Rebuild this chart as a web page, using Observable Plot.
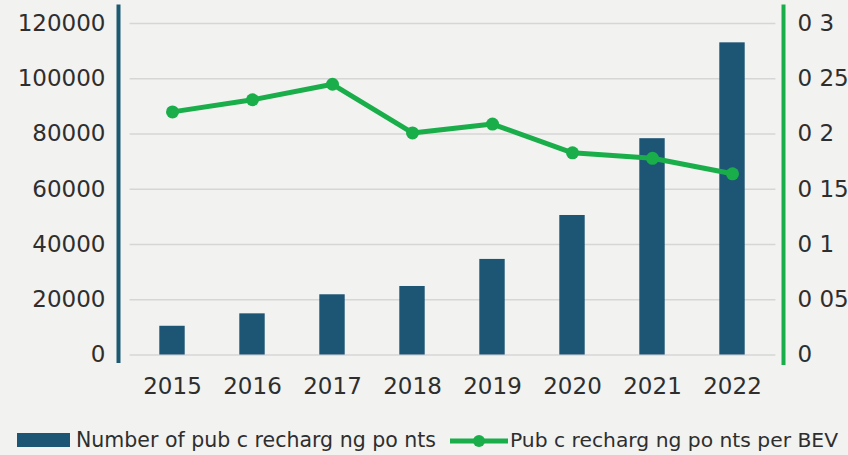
<!DOCTYPE html>
<html><head><meta charset="utf-8">
<script src="https://cdn.jsdelivr.net/npm/d3@7"></script>
<script src="https://cdn.jsdelivr.net/npm/@observablehq/plot@0.6"></script>
<style>
html,body{margin:0;padding:0;background:#f2f2f0;}
#wrap{position:relative;width:848px;height:455px;overflow:hidden;}
#chart{position:absolute;left:0;top:0;}
#legend{position:absolute;left:0;top:415px;}
</style></head><body>
<div id="wrap"><div id="chart"></div><svg id="legend" width="848" height="40"></svg></div>
<script>
const years = ["2015","2016","2017","2018","2019","2020","2021","2022"];
const chargingPoints = [10400, 14900, 21800, 24800, 34600, 50500, 78300, 113000];
const pointsPerBEV = [0.220, 0.231, 0.245, 0.201, 0.209, 0.183, 0.178, 0.164];
const leftTicks = [0, 20000, 40000, 60000, 80000, 100000, 120000];
const rightTicks = [0, 0.05, 0.1, 0.15, 0.2, 0.25, 0.3];
const rightTickLabels = ["0", "0 05", "0 1", "0 15", "0 2", "0 25", "0 3"];
const seriesNames = ["Number of pub c recharg ng po nts", "Pub c recharg ng po nts per BEV"];

const barColor = "#1d5574";
const lineColor = "#1aae4a";
const leftMax = 120000, rightMax = 0.3;
const ratio = leftMax / rightMax;

const bars = years.map((y, i) => ({year: y, value: chargingPoints[i]}));
const pts = years.map((y, i) => ({year: y, value: pointsPerBEV[i] * ratio}));
const rightLabel = d => rightTickLabels[rightTicks.findIndex(v => Math.abs(v * ratio - d) < 1e-6)];

const chart = Plot.plot({
  width: 848, height: 415,
  marginTop: 23, marginBottom: 60.5, marginLeft: 118, marginRight: 65,
  style: {background: "transparent", fontFamily: "DejaVu Sans", fontSize: "23px", color: "#2e2e2e"},
  x: {type: "band", domain: years, range: [129.6, 775.4], padding: 0, label: null},
  y: {domain: [0, leftMax], label: null},
  marks: [
    Plot.ruleY(leftTicks, {stroke: "#d6d6d6", strokeWidth: 1.5, insetLeft: 11.6, insetRight: 7.6}),
    Plot.barY(bars, {x: "year", y: "value", fill: barColor, insetLeft: 27.3, insetRight: 27.3}),
    Plot.line(pts, {x: "year", y: "value", stroke: lineColor, strokeWidth: 5}),
    Plot.dot(pts, {x: "year", y: "value", r: 6.5, fill: lineColor}),
    Plot.axisY(leftTicks, {anchor: "left", tickSize: 0, tickPadding: 13, tickFormat: d => String(d), label: null, fontSize: 23}),
    Plot.axisY(rightTicks.map(v => v * ratio), {anchor: "right", tickSize: 0, tickPadding: 14, tickFormat: rightLabel, label: null, fontSize: 23}),
    Plot.axisX({tickSize: 0, tickPadding: 23, label: null, fontSize: 23}),
    Plot.frame({anchor: "left", stroke: "#1c5a72", strokeWidth: 4, insetTop: -17, insetBottom: -6}),
    Plot.frame({anchor: "right", stroke: lineColor, strokeWidth: 4, insetTop: -17, insetBottom: -8})
  ]
});
document.getElementById("chart").appendChild(chart);

const lg = d3.select("#legend");
lg.append("rect").attr("x", 17).attr("y", 18).attr("width", 53).attr("height", 14).attr("fill", barColor);
lg.append("text").attr("x", 76).attr("y", 32).attr("font-family", "DejaVu Sans").attr("font-size", 21)
  .attr("textLength", 360).attr("lengthAdjust", "spacingAndGlyphs").attr("fill", "#2e2e2e").text(seriesNames[0]);
lg.append("line").attr("x1", 450).attr("x2", 508).attr("y1", 26).attr("y2", 26).attr("stroke", lineColor).attr("stroke-width", 5);
lg.append("circle").attr("cx", 479).attr("cy", 26).attr("r", 6).attr("fill", lineColor);
lg.append("text").attr("x", 510).attr("y", 32).attr("font-family", "DejaVu Sans").attr("font-size", 20)
  .attr("textLength", 328).attr("lengthAdjust", "spacingAndGlyphs").attr("fill", "#2e2e2e").text(seriesNames[1]);
</script>
</body></html>
